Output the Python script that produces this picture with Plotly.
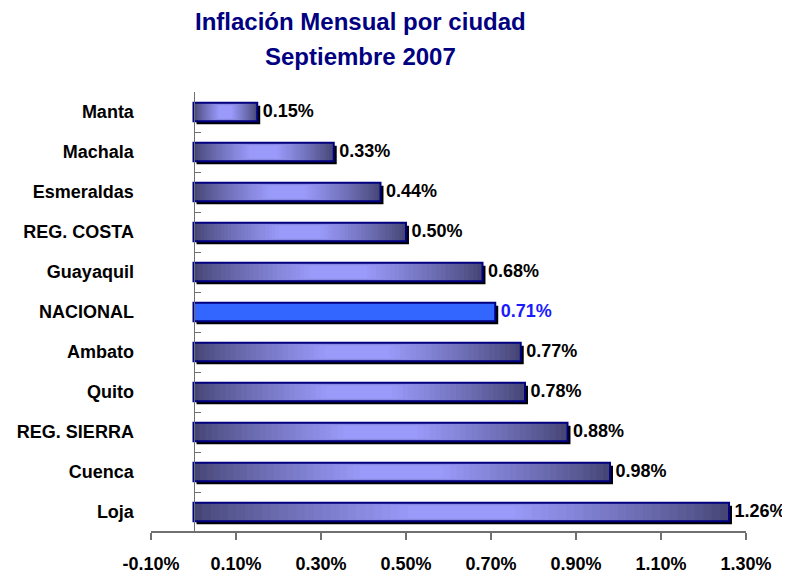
import plotly.graph_objects as go

# ---- data ----
cities = ["Manta", "Machala", "Esmeraldas", "REG. COSTA", "Guayaquil", "NACIONAL",
          "Ambato", "Quito", "REG. SIERRA", "Cuenca", "Loja"]
inflation = [0.15, 0.33, 0.44, 0.50, 0.68, 0.71, 0.77, 0.78, 0.88, 0.98, 1.26]
highlight = "NACIONAL"
x_tick_values = [-0.10, 0.10, 0.30, 0.50, 0.70, 0.90, 1.10, 1.30]
x_tick_labels = ["-0.10%", "0.10%", "0.30%", "0.50%", "0.70%", "0.90%", "1.10%", "1.30%"]
title_line1 = "Inflación Mensual por ciudad"
title_line2 = "Septiembre 2007"

# ---- style ----
FONT = "Liberation Sans, Arial, sans-serif"
NAVY = "#000080"
AXIS = "#707070"
BAR_W = 0.46
SHADOW_DY = 0.075      # category units
SHADOW_DX = 0.007      # percent units
LABEL_DX = 0.013
EDGE = (0x46, 0x46, 0x76)
CENTER = (0x9A, 0x9A, 0xFA)
N_LAYERS = 26


def mix(t):
    r = [round(EDGE[i] + (CENTER[i] - EDGE[i]) * t) for i in range(3)]
    return f"rgb({r[0]},{r[1]},{r[2]})"


fig = go.Figure()

# shadow
fig.add_trace(go.Bar(
    y=cities, x=inflation, base=[SHADOW_DX] * len(cities), orientation="h",
    width=BAR_W, offset=-BAR_W / 2 + SHADOW_DY,
    marker=dict(color="black", line=dict(width=0)), hoverinfo="skip"))

# gradient layers (regular bars)
for k in range(N_LAYERS):
    s = k / (N_LAYERS - 1)
    a = 0.40 * s
    t = s ** 0.85
    w = BAR_W - 0.14 * s ** 2
    xs = [v * (1 - 2 * a) if c != highlight else None for c, v in zip(cities, inflation)]
    bs = [v * a if c != highlight else 0 for c, v in zip(cities, inflation)]
    fig.add_trace(go.Bar(
        y=cities, x=xs, base=bs, orientation="h", width=w, offset=-w / 2,
        marker=dict(color=mix(t), line=dict(width=0)), hoverinfo="skip"))

# highlighted bar
hv = [v for c, v in zip(cities, inflation) if c == highlight]
fig.add_trace(go.Bar(
    y=[highlight], x=hv, orientation="h", width=BAR_W, offset=-BAR_W / 2,
    marker=dict(color="#3366FF", line=dict(width=0)), hoverinfo="skip"))

# outline
fig.add_trace(go.Bar(
    y=cities, x=inflation, orientation="h", width=BAR_W, offset=-BAR_W / 2,
    marker=dict(color="rgba(0,0,0,0)", line=dict(color=NAVY, width=2)),
    hoverinfo="skip"))

# value labels
fig.add_trace(go.Scatter(
    y=cities, x=[v + LABEL_DX for v in inflation], mode="text",
    text=[f"{v:.2f}%" for v in inflation], textposition="middle right",
    textfont=dict(family=FONT, size=18, weight="bold",
                  color=["#1A1AFF" if c == highlight else "black" for c in cities]),
    cliponaxis=False, hoverinfo="skip"))

fig.add_annotation(text=f"<b>{title_line1}</b>", xref="paper", yref="paper",
                   x=0.352, y=1.160, xanchor="center", yanchor="middle",
                   showarrow=False, font=dict(family=FONT, size=24, color=NAVY))
fig.add_annotation(text=f"<b>{title_line2}</b>", xref="paper", yref="paper",
                   x=0.352, y=1.080, xanchor="center", yanchor="middle",
                   showarrow=False, font=dict(family=FONT, size=24, color=NAVY))

# horizontal axis line along the bottom of the plotting area
fig.add_shape(type="line", xref="paper", yref="paper", x0=0, x1=1, y0=0, y1=0,
              line=dict(color=AXIS, width=1.5), layer="above")

# page body has an 8px margin: shrink the figure so the plot area lands where intended
fig.update_layout(
    width=782, height=569, autosize=False,
    margin=dict(l=143, r=44, t=84, b=45),
    paper_bgcolor="white", plot_bgcolor="white",
    barmode="overlay", showlegend=False,
    xaxis=dict(range=[-0.1, 1.3], tickmode="array", tickvals=x_tick_values,
               ticktext=x_tick_labels, anchor="free", position=0,
               showline=True, linecolor=AXIS, linewidth=1.5,
               ticks="outside", ticklen=7, tickwidth=1.5, tickcolor=AXIS, showgrid=False,
               zeroline=False, ticklabelstandoff=9, automargin=False,
               tickfont=dict(family=FONT, size=18, weight="bold", color="black")),
    yaxis=dict(type="category", categoryorder="array", categoryarray=cities,
               range=[len(cities) - 0.5, -0.5], anchor="free", position=0.1 / 1.4,
               showline=True, linecolor=AXIS, linewidth=1,
               ticks="inside", tickson="boundaries", ticklen=6, tickcolor=AXIS,
               showgrid=False, zeroline=False, ticklabelstandoff=56, automargin=False,
               tickfont=dict(family=FONT, size=18, weight="bold", color="black")),
)

fig.write_html("out.html")
